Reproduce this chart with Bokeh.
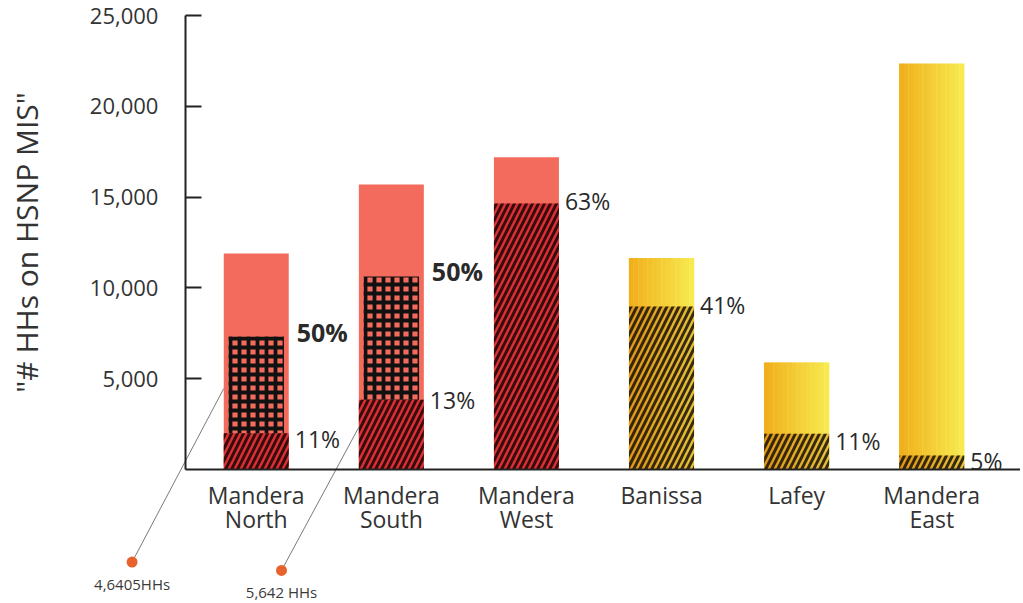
from bokeh.plotting import figure
from bokeh.models import Range1d, FixedTicker, NumeralTickFormatter, ColumnDataSource
from bokeh.core.properties import value
from bokeh.embed import file_html
from bokeh.resources import INLINE

# ---------------- data ----------------
districts = ["Mandera\nNorth", "Mandera\nSouth", "Mandera\nWest", "Banissa", "Lafey", "Mandera\nEast"]
total_hh = [11900, 15700, 17200, 11650, 5900, 22350]
hatched_hh = [2000, 3840, 14650, 8980, 1970, 770]
hatched_pct = ["11%", "13%", "63%", "41%", "11%", "5%"]
red_idx = [0, 1, 2]
yellow_idx = [3, 4, 5]
dotted_idx = [0, 1]
dotted_top_hh = [7320, 10630]
dotted_pct = ["50%", "50%"]
callout_idx = [0, 1]
callout_target_hh = [4460, 2330]
callout_text = ["4,6405HHs", "5,642 HHs"]
y_ticks = [5000, 10000, 15000, 20000, 25000]

# ---------------- layout / style ----------------
FONT = "Open Sans"
BAR_W = 0.481
pct_dy = [6, 0, -2, -1, 7, 5]          # pixel nudges of the % labels
callout_dx = [-0.919, -0.813]          # dot position relative to its bar
callout_dot_y = [-5100, -5560]
SALMON = "#F36B5C"
RED = "#DC3034"

p = figure(width=1020, height=603, output_backend="svg", toolbar_location=None,
           x_range=Range1d(-1.893, 5.657), y_range=Range1d(-7379, 25826),
           min_border=0, min_border_left=0, min_border_right=0,
           min_border_top=0, min_border_bottom=0)
p.outline_line_color = None
p.grid.visible = False
p.background_fill_color = "white"

# red bars
red_x = red_idx
p.vbar(x=red_x, top=[total_hh[i] for i in red_idx], bottom=0, width=BAR_W,
       fill_color=SALMON, line_color=None)
p.vbar(x=red_x, top=[hatched_hh[i] for i in red_idx], bottom=0, width=BAR_W,
       fill_color=RED, line_color=None, hatch_pattern="/", hatch_color="#1a0505",
       hatch_weight=3, hatch_scale=12, hatch_alpha=0.85)
p.vbar(x=dotted_idx, top=dotted_top_hh, bottom=[hatched_hh[i] for i in dotted_idx],
       width=0.41, fill_alpha=0, line_color=None, hatch_pattern="+",
       hatch_color="#111111", hatch_weight=3.8, hatch_scale=9)

# yellow bars with horizontal gradient
n_strips = 14
c0 = (240, 176, 28)
c1 = (247, 233, 78)
for k in range(n_strips):
    t = k / (n_strips - 1)
    col = "#%02x%02x%02x" % tuple(int(round(a + (b - a) * t)) for a, b in zip(c0, c1))
    off = -BAR_W / 2 + (k + 0.5) * BAR_W / n_strips
    p.vbar(x=[i + off for i in yellow_idx], top=[total_hh[i] for i in yellow_idx], bottom=0,
           width=BAR_W / n_strips * 1.08, fill_color=col, line_color=None)
p.vbar(x=yellow_idx, top=[hatched_hh[i] for i in yellow_idx], bottom=0, width=BAR_W,
       fill_color="#b8640a", fill_alpha=0.3, line_color=None, hatch_pattern="/",
       hatch_color="#1a1005", hatch_weight=3, hatch_scale=12, hatch_alpha=0.85)

# % labels
src = ColumnDataSource(dict(x=[i + BAR_W / 2 for i in range(len(districts))],
                            y=hatched_hh, t=hatched_pct, dy=pct_dy))
p.text(x="x", y="y", text="t", source=src, x_offset=6, y_offset="dy",
       text_font=value(FONT), text_font_size="23px", text_color="#2a2a2a",
       text_baseline="middle", text_align="left")
p.text(x=[i + BAR_W / 2 for i in dotted_idx], y=dotted_top_hh, text=dotted_pct,
       x_offset=8, y_offset=-5, text_font=value(FONT), text_font_size="25px",
       text_font_style="bold", text_color="#2a2a2a", text_baseline="middle",
       text_align="left")

# callouts
dot_x = [i + dx for i, dx in zip(callout_idx, callout_dx)]
p.segment(x0=dot_x, y0=callout_dot_y, x1=[i - BAR_W / 2 for i in callout_idx],
          y1=callout_target_hh, line_color="#7a7a7a", line_width=1)
p.scatter(x=dot_x, y=callout_dot_y, size=11, fill_color="#E8622E", line_color=None)
p.text(x=dot_x, y=callout_dot_y, text=callout_text, y_offset=22,
       text_font=value(FONT), text_font_size="15px", text_color="#3a3a3a",
       text_baseline="middle", text_align="center")

# axes
ya = p.yaxis[0]
ya.fixed_location = -0.524
ya.bounds = (0, 25000)
ya.ticker = FixedTicker(ticks=y_ticks)
ya.formatter = NumeralTickFormatter(format="0,0")
ya.major_tick_in = 16
ya.major_tick_out = 0
ya.minor_tick_in = 0
ya.minor_tick_out = 0
ya.major_tick_line_width = 2
ya.major_tick_line_color = "#222222"
ya.axis_line_width = 2
ya.axis_line_color = "#222222"
ya.major_label_standoff = 27
ya.major_label_text_font = FONT
ya.major_label_text_font_size = "22px"
ya.major_label_text_color = "#333333"
ya.axis_label = '"# HHs on HSNP MIS"'
ya.axis_label_text_font = FONT
ya.axis_label_text_font_size = "30px"
ya.axis_label_text_font_style = "normal"
ya.axis_label_text_color = "#333333"
ya.axis_label_standoff = 40

xa = p.xaxis[0]
xa.fixed_location = 0
xa.bounds = (-0.524, 5.657)
xa.ticker = FixedTicker(ticks=list(range(len(districts))))
xa.major_label_overrides = {i: d for i, d in enumerate(districts)}
xa.major_tick_in = 0
xa.major_tick_out = 0
xa.minor_tick_in = 0
xa.minor_tick_out = 0
xa.axis_line_width = 2
xa.axis_line_color = "#222222"
xa.major_label_standoff = 10
xa.major_label_text_font = FONT
xa.major_label_text_font_size = "23px"
xa.major_label_text_color = "#333333"
xa.major_label_text_line_height = 0.75

open("out.html", "w").write(file_html(p, INLINE))
